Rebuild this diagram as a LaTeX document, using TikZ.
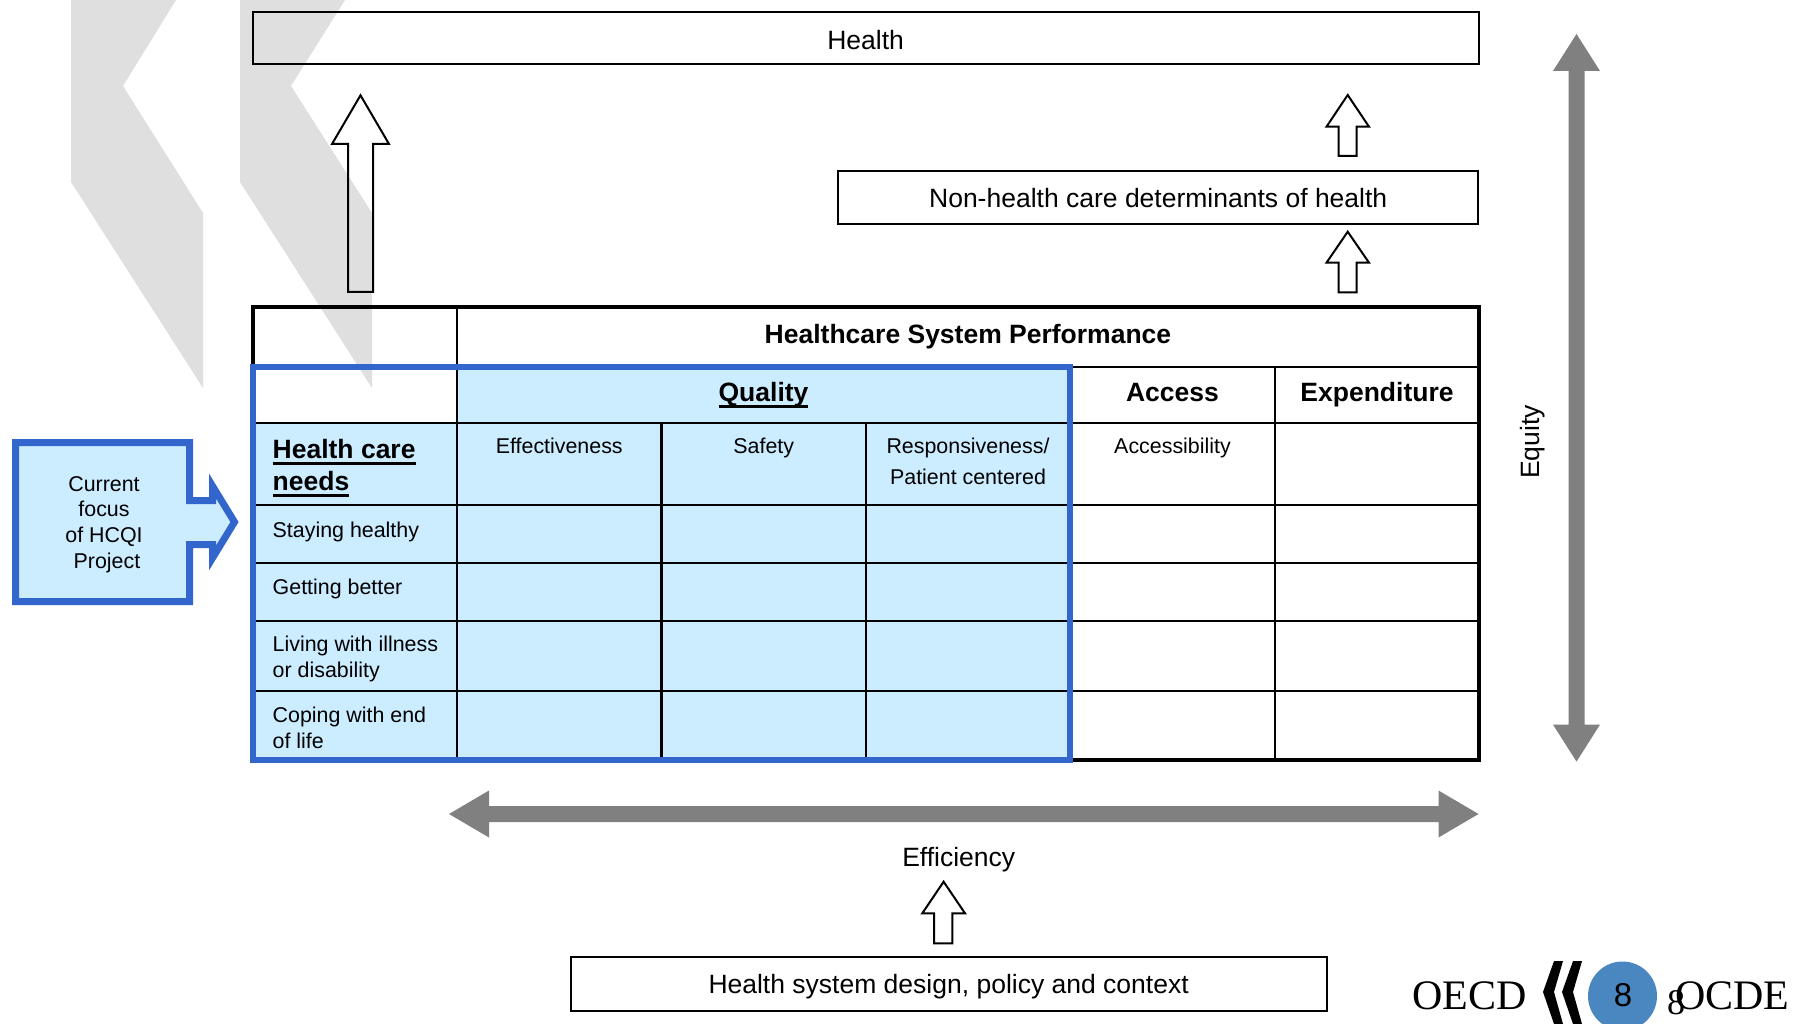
\documentclass[tikz,border=0pt]{standalone}
\usepackage{fontspec}
\setmainfont{Liberation Sans}
\newfontfamily\logoserif{Liberation Serif}
\definecolor{qblue}{HTML}{3366CC}
\definecolor{qfill}{HTML}{CCECFF}
\definecolor{wmgrey}{HTML}{DFDFDF}
\definecolor{arrgrey}{HTML}{808080}
\definecolor{logoblue}{HTML}{4A86C0}
\newsavebox\ulbox
\newcommand\myul[1]{\sbox\ulbox{#1}\rlap{\rule[-6.5pt]{\wd\ulbox}{2.5pt}}\usebox\ulbox}
\tikzset{
  boxtxt/.style={font=\fontsize{26.5}{31}\selectfont, inner sep=0pt},
  boldtxt/.style={font=\fontsize{26.5}{31}\selectfont\bfseries, inner sep=0pt},
  smalltxt/.style={font=\fontsize{21.4}{26}\selectfont, inner sep=0pt},
  framebox/.style={draw=black, line width=2pt, inner sep=0pt, text height=19pt, text depth=0pt,
                   font=\fontsize{26.5}{31}\selectfont},
  blockarrow/.style={draw=black, line width=2pt, line join=miter},
  thinline/.style={draw=black, line width=2.5pt},
  thickline/.style={draw=black, line width=4.5pt},
  blueline/.style={draw=qblue, line width=6.5pt},
  greyarrow/.style={fill=arrgrey, draw=none},
  watermark/.style={fill=wmgrey, draw=none},
}
\begin{document}
\begin{tikzpicture}[x=1pt,y=-1pt]
\clip (0,0) rectangle (1793,1024);
\fill[white] (0,0) rectangle (1793,1024);

% watermark chevrons
\fill[watermark] (71,0) -- (176,0) -- (123,86) -- (203,213) -- (203,388) -- (71,182) -- cycle;
\fill[watermark] (240,0) -- (345,0) -- (291,86) -- (372,213) -- (372,388) -- (240,182) -- cycle;

% table fills
\fill[qfill] (253,423) rectangle (1070,760);
\fill[qfill] (457,367) rectangle (1070,423);

% thin grid
\foreach \yy in {367,423,505,563,621,691} \draw[thinline] (253,\yy) -- (1479,\yy);
\draw[thinline] (457,307) -- (457,760);
\foreach \xx in {661.5,866} \draw[thinline] (\xx,423) -- (\xx,760);
\foreach \xx in {1070,1275} \draw[thinline] (\xx,367) -- (\xx,760);

% outer borders
\draw[thickline] (253,307) rectangle (1479,760);
\draw[blueline] (253,367) rectangle (1070,760);

% table texts
\node[boldtxt, anchor=base] (hsp) at (968,343.5) {Healthcare System Performance};
\node[boldtxt, anchor=base] (quality) at (763.5,401) {\myul{Quality}};
\node[boldtxt, anchor=base] (access) at (1172.5,401) {Access};
\node[boldtxt, anchor=base] (expend) at (1377,401) {Expenditure};
\node[boldtxt, anchor=base west] (hcn1) at (272.5,458) {\myul{Health care}};
\node[boldtxt, anchor=base west] (hcn2) at (272.5,490) {\myul{needs}};
\node[smalltxt, anchor=base] (effect) at (559.25,453) {Effectiveness};
\node[smalltxt, anchor=base] (safety) at (763.75,453) {Safety};
\node[smalltxt, anchor=base] (resp1) at (968,453) {Responsiveness/};
\node[smalltxt, anchor=base] (resp2) at (968,484) {Patient centered};
\node[smalltxt, anchor=base] (accessib) at (1172.5,453) {Accessibility};
\node[smalltxt, anchor=base west] (stay) at (272.5,537) {Staying healthy};
\node[smalltxt, anchor=base west] (better) at (272.5,594) {Getting better};
\node[smalltxt, anchor=base west] (living1) at (272.5,651) {Living with illness};
\node[smalltxt, anchor=base west] (living2) at (272.5,677) {or disability};
\node[smalltxt, anchor=base west] (coping1) at (272.5,722) {Coping with end};
\node[smalltxt, anchor=base west] (coping2) at (272.5,748) {of life};

% boxes
\node[framebox, text height=23.4pt, minimum width=1225.8pt, minimum height=52pt] (health) at (865.6,38.3) {Health};
\node[framebox, text height=21pt, minimum width=640.3pt, minimum height=53.3pt] (nonhealth) at (1158.2,197.5) {Non-health care determinants of health};
\node[framebox, minimum width=755.8pt, minimum height=54pt] (design) at (948.6,983.7) {Health system design, policy and context};
\node[boxtxt, anchor=base] (efficiency) at (958.7,866) {Efficiency};
\node[boxtxt, anchor=base, rotate=90] (equity) at (1539,442) {Equity};

% block arrows
\draw[blockarrow] (360.5,95.3) -- (389,144) -- (373,144) -- (373,292) -- (348,292) -- (348,144) -- (332,144) -- cycle;
\draw[blockarrow] (1347.7,95) -- (1369,126.7) -- (1356.7,126.7) -- (1356.7,156) -- (1338.5,156) -- (1338.5,126.7) -- (1326.5,126.7) -- cycle;
\draw[blockarrow] (1347.7,231.7) -- (1369,262.7) -- (1356.7,262.7) -- (1356.7,292.3) -- (1338.5,292.3) -- (1338.5,262.7) -- (1326.5,262.7) -- cycle;
\draw[blockarrow] (943.6,881.7) -- (965,913.3) -- (952.3,913.3) -- (952.3,943.3) -- (934,943.3) -- (934,913.3) -- (922.3,913.3) -- cycle;

% grey double arrows
\fill[greyarrow] (1576.5,34) -- (1600,71) -- (1584.5,71) -- (1584.5,724.6) -- (1600,724.6) -- (1576.5,761.6)
  -- (1553,724.6) -- (1568.5,724.6) -- (1568.5,71) -- (1553,71) -- cycle;
\fill[greyarrow] (449,814) -- (489,790.5) -- (489,806) -- (1438.5,806) -- (1438.5,790.5) -- (1478.5,814)
  -- (1438.5,837.5) -- (1438.5,822) -- (489,822) -- (489,837.5) -- cycle;

% current focus arrow box
\draw[draw=qblue, fill=qfill, line width=7pt, line join=miter]
  (15.5,442.5) -- (189.5,442.5) -- (189.5,500.5) -- (212.5,500.5) -- (212.5,486) -- (234.5,522)
  -- (212.5,558) -- (212.5,544.5) -- (189.5,544.5) -- (189.5,601.5) -- (15.5,601.5) -- cycle;
\node[smalltxt, anchor=base] (focus1) at (104,491.7) {Current};
\node[smalltxt, anchor=base] (focus2) at (104,516.7) {focus};
\node[smalltxt, anchor=base] (focus3) at (104,542) {of HCQI};
\node[smalltxt, anchor=base] (focus4) at (107,568) {Project};

% logo
\node[font=\logoserif\fontsize{42}{42}\selectfont, anchor=base west, inner sep=0pt] (oecd) at (1412,1009) {OECD};
\fill[black] (1554,961) -- (1563,961) -- (1554,992) -- (1563,1024) -- (1554,1024) -- (1543,992) -- cycle;
\fill[black] (1573,961) -- (1582,961) -- (1573,992) -- (1582,1024) -- (1573,1024) -- (1562,992) -- cycle;
\fill[logoblue] (1622.5,996) circle[radius=34.5];
\node[font=\fontsize{33}{33}\selectfont, inner sep=0pt, text height=23.5pt, text depth=0pt] (pagenum) at (1623,995) {8};
\node[font=\logoserif\fontsize{42}{42}\selectfont, anchor=base west, inner sep=0pt] (ocde) at (1675,1009) {OCDE};
\node[font=\logoserif\fontsize{36}{36}\selectfont, anchor=base west, inner sep=0pt] (eight) at (1667,1014) {8};
\end{tikzpicture}
\end{document}
